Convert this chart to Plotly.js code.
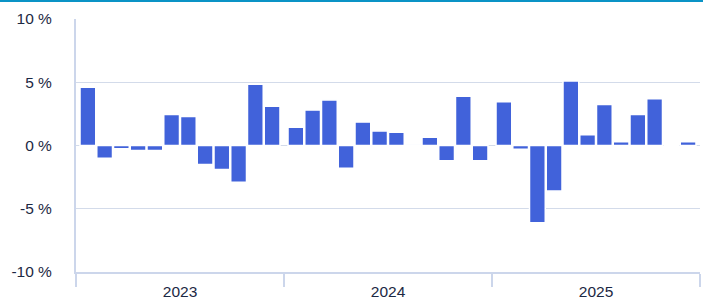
<!DOCTYPE html>
<html>
<head>
<meta charset="utf-8">
<script src="https://cdn.plot.ly/plotly-3.0.1.min.js"></script>
<style>
  html, body { margin: 0; padding: 0; background: #ffffff; }
  #wrap { position: relative; width: 703px; height: 300px; overflow: hidden; }
  #topband { position: absolute; left: 0; top: 0; width: 703px; height: 2px; background: #0a93c6; z-index: 5; }
  #chart { width: 703px; height: 300px; }
</style>
</head>
<body>
<div id="wrap">
  <div id="topband"></div>
  <div id="chart"></div>
</div>
<script>
// ---- data (monthly change, %) ----
const years = ['2023', '2024', '2025'];
const months = [1, 2, 3, 4, 5, 6, 7, 8, 9, 10, 11, 12];
const values2023 = [4.6, -1.0, -0.25, -0.4, -0.4, 2.45, 2.3, -1.5, -1.9, -2.9, 4.85, 3.1];
const values2024 = [1.45, 2.8, 3.6, -1.8, 1.85, 1.15, 1.05, 0.05, 0.65, -1.2, 3.9, -1.2];
const values2025 = [3.45, -0.3, -6.1, -3.6, 5.1, 0.85, 3.25, 0.3, 2.45, 3.7, 0, 0.3];
const yTickVals = [-10, -5, 0, 5, 10];
const yTickText = ['-10 %', '-5 %', '0 %', '5 %', '10 %'];

// ---- layout of the grouped month axis ----
const PAD = 0.71;                       // space before first / after last month in a year
const YEAR_SPAN = months.length - 1 + 2 * PAD;
const seriesByYear = [values2023, values2024, values2025];

const xs = [], ys = [], labels = [];
years.forEach((yr, yi) => {
  months.forEach((m, mi) => {
    xs.push(yi * YEAR_SPAN + PAD + mi);
    ys.push(seriesByYear[yi][mi]);
    labels.push(yr + '-' + String(m).padStart(2, '0'));
  });
});
const bounds = years.map((_, yi) => yi * YEAR_SPAN).concat([years.length * YEAR_SPAN]);
const centers = years.map((_, yi) => yi * YEAR_SPAN + YEAR_SPAN / 2);
const xMax = years.length * YEAR_SPAN;

const txtColor = '#1c2843';
const lineColor = '#ccd6eb';
const gridColor = '#d3dbea';

const trace = {
  type: 'bar',
  x: xs,
  y: ys,
  text: labels,
  hoverinfo: 'text+y',
  width: 0.94,
  marker: { color: '#4162da', line: { color: '#ffffff', width: 1.5 } },
  textposition: 'none'
};

const layout = {
  width: 703,
  height: 300,
  margin: { l: 76, r: 3, t: 19, b: 28, pad: 0 },
  paper_bgcolor: '#ffffff',
  plot_bgcolor: '#ffffff',
  showlegend: false,
  font: { family: '"Liberation Sans", Arial, sans-serif', size: 15.5, color: txtColor },
  xaxis: {
    range: [0, xMax],
    tickmode: 'array',
    tickvals: centers,
    ticktext: years,
    ticks: '',
    ticklabelstandoff: 4,
    showgrid: false,
    zeroline: false,
    showline: true,
    linecolor: lineColor,
    linewidth: 2,
    tickfont: { size: 15.5, color: txtColor },
    fixedrange: true,
    minor: {
      tickmode: 'array',
      tickvals: bounds,
      ticks: 'outside',
      ticklen: 13,
      tickwidth: 2,
      tickcolor: lineColor,
      showgrid: false
    }
  },
  yaxis: {
    range: [-10, 10],
    tickmode: 'array',
    tickvals: yTickVals,
    ticktext: yTickText,
    ticks: '',
    ticklabelstandoff: 19,
    showgrid: true,
    gridcolor: gridColor,
    gridwidth: 1,
    zeroline: true,
    zerolinecolor: gridColor,
    zerolinewidth: 1,
    showline: true,
    linecolor: lineColor,
    linewidth: 2,
    tickfont: { size: 15.5, color: txtColor },
    fixedrange: true
  }
};

Plotly.newPlot('chart', [trace], layout, { displayModeBar: false, staticPlot: true });
</script>
</body>
</html>
